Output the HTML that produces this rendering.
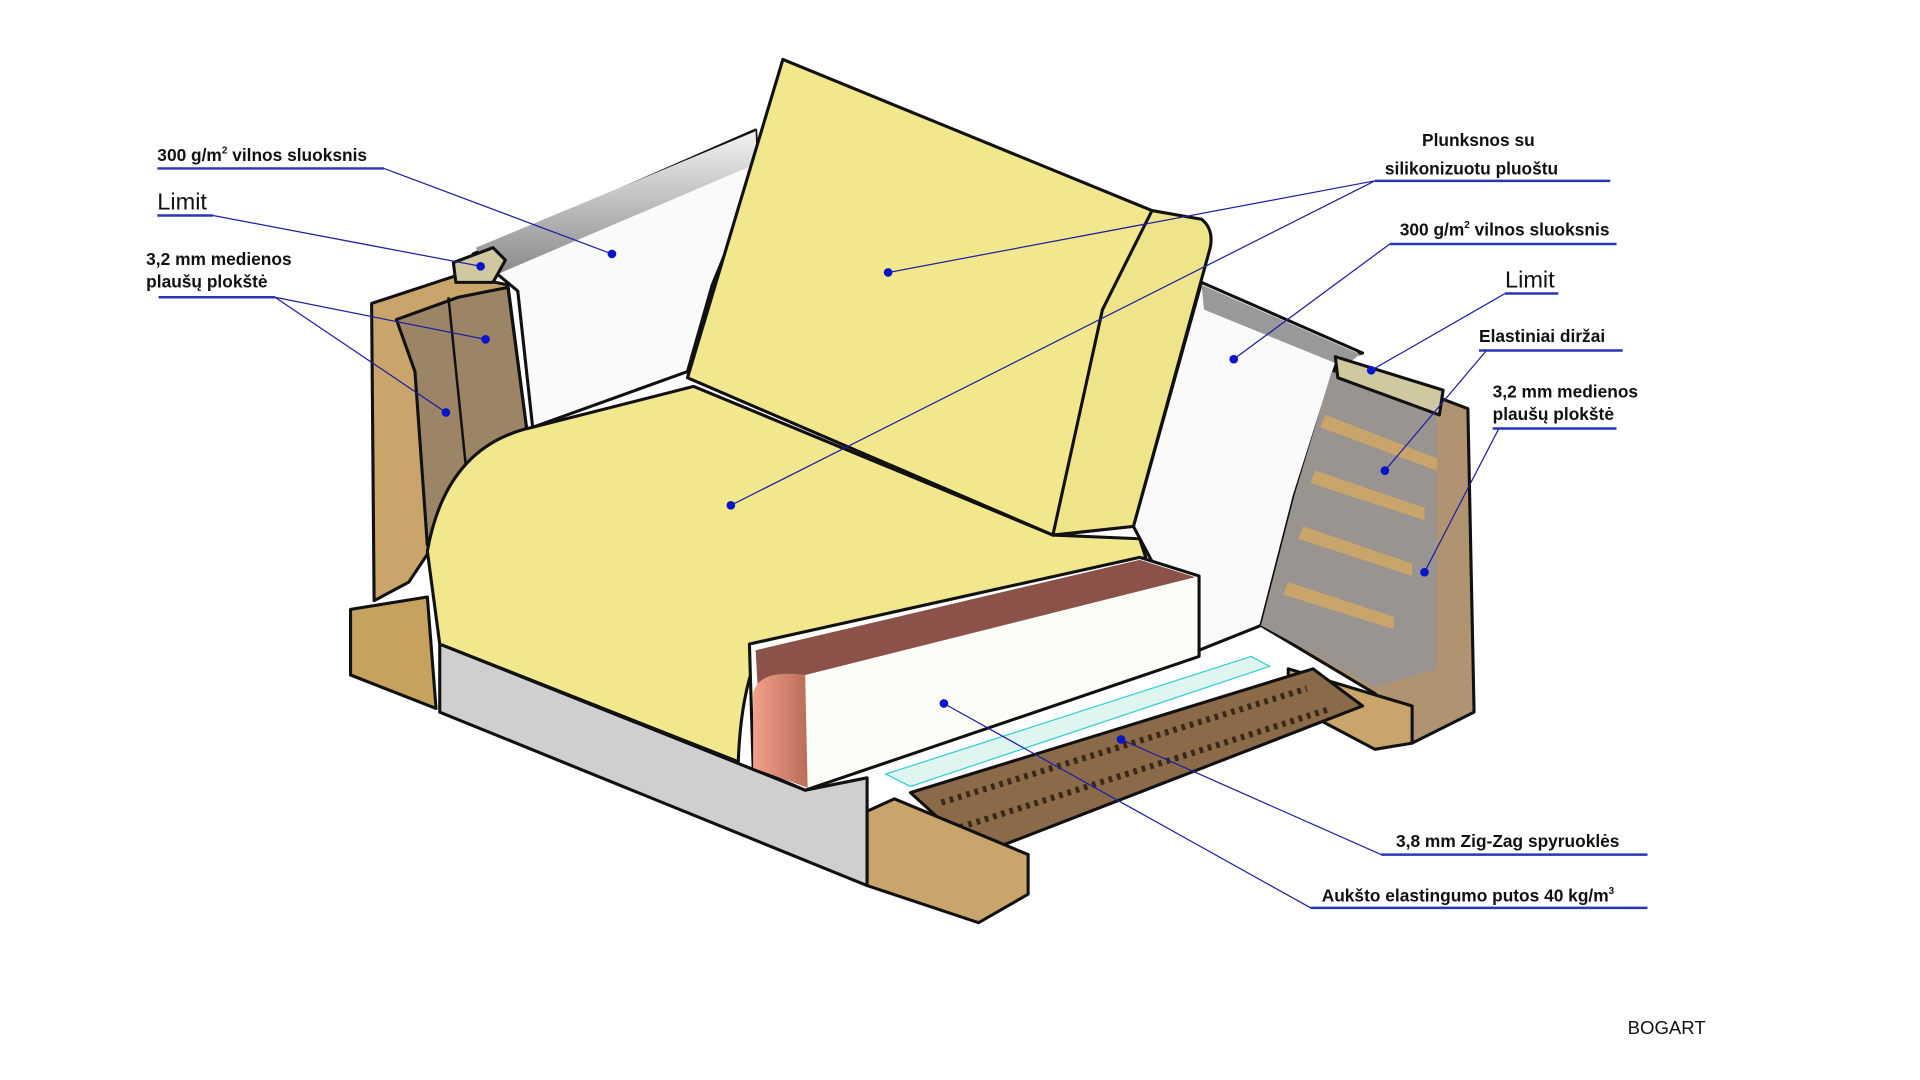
<!DOCTYPE html>
<html><head><meta charset="utf-8"><style>
html,body{margin:0;padding:0;background:#fff;width:1920px;height:1080px;overflow:hidden}
svg{display:block}
text{font-family:"Liberation Sans",sans-serif;fill:#111}
.b{font-weight:bold;font-size:14px}
.ul{stroke:#2a35b8;stroke-width:2}
.ln{stroke:#2020a0;stroke-width:1;fill:none}
.d{fill:#0a14c8}
.o{stroke:#111;stroke-width:2.5;stroke-linejoin:round}
</style></head><body>
<svg width="1920" height="1080" viewBox="0 0 1550 872" preserveAspectRatio="none">
<defs>
<linearGradient id="gb" x1="0" y1="0" x2="0" y2="1"><stop offset="0" stop-color="#f2f2f2"/><stop offset="1" stop-color="#8a8a8a"/></linearGradient>
<linearGradient id="cu" x1="0" y1="0" x2="1" y2="0"><stop offset="0" stop-color="#f4a08a"/><stop offset="1" stop-color="#b86e5a"/></linearGradient>
</defs>
<path class="o" d="M382,205 L610,105 L612,140 L575,230 L555,300 L430,345 L418,235 Z" fill="#fafafa"/>
<path d="M384,200 L610,106 L611,132 L400,222 Z" fill="url(#gb)"/>
<path class="o" d="M300,245 L370,222 L410,230 L425,345 L385,385 L350,440 L330,470 L302,485 Z" fill="#c9a56b"/>
<path class="o" d="M320,258 L370,240 L410,232 L425,345 L380,395 L345,440 L335,300 Z" fill="#9c8466"/>
<path d="M362,240 L378,395" stroke="#111" stroke-width="2" fill="none"/>
<path class="o" d="M366,212 L398,200 L408,210 L398,228 L368,228 Z" fill="#cfc8a0"/>
<path class="o" d="M283,492 L345,482 L352,572 L283,545 Z" fill="#c7a25f"/>
<path class="o" d="M915,425 L970,228 L1100,285 L1080,290 L1045,400 L1018,505 L968,525 Z" fill="#fafafa"/>
<path d="M970,230 L1098,286 L1085,296 L972,250 Z" fill="#999"/>
<path class="o" d="M1080,290 L1185,330 L1190,575 L1140,600 L1110,560 L1018,505 L1045,400 Z" fill="#b09472"/>
<path d="M1075,300 L1160,335 L1160,540 L1110,555 L1018,505 L1045,400 Z" fill="#9a9490"/>
<g fill="#c9a56b"><path d="M1070,335 L1160,370 L1160,380 L1066,345Z"/><path d="M1062,380 L1150,410 L1150,420 L1058,390Z"/><path d="M1052,425 L1140,455 L1140,465 L1048,435Z"/><path d="M1040,470 L1125,498 L1125,508 L1036,480Z"/></g>
<path class="o" d="M1078,288 L1165,315 L1162,335 L1080,305 Z" fill="#cfc8a0"/>
<path class="o" d="M1040,540 L1140,570 L1140,600 L1110,605 L1040,568 Z" fill="#c9a56b"/>
<path class="o" d="M735,640 L1060,540 L1100,570 L790,690 Z" fill="#8a6a48"/>
<path d="M760,648 L1055,556 M775,668 L1075,572" stroke="#3a2818" stroke-width="5" stroke-dasharray="3 4" fill="none"/>
<path d="M715,625 L1010,530 L1025,538 L735,635 Z" fill="#dff5f0" stroke="#30d0d0"/>
<path class="o" d="M355,520 L605,620 L650,638 L700,628 L700,715 L355,575 Z" fill="#cfcfcf"/>
<path class="o" d="M700,655 L722,645 L830,690 L830,722 L790,745 L700,715 Z" fill="#c9a56b"/>
<path class="o" d="M345,445 Q360,360 430,345 L560,312 L850,432 L920,435 L925,450 L612,528 Q598,560 596,615 L355,520 Z" fill="#f1e88e"/>
<path class="o" d="M605,520 L920,450 L968,465 L968,530 L650,638 L608,620 Z" fill="#fdfdf8"/>
<path d="M610,525 L920,452 L965,466 L650,545 Q615,545 612,560 Z" fill="#8a5248"/>
<path d="M608,560 Q612,540 650,545 L652,636 L608,620 Z" fill="url(#cu)"/>
<path class="o" d="M632,48 L930,170 L915,425 L850,432 L555,305 Z" fill="#f1e88e"/>
<path class="o" d="M930,170 L970,177 Q980,185 977,200 L915,425 L850,432 L890,250 Z" fill="#eee58a"/>
<g class="ln">
<path d="M310,136 L494,205"/><path d="M172,174 L388,215"/>
<path d="M222,240 L392,274"/><path d="M222,240 L360,333"/>
<path d="M1110,146 L717,220"/><path d="M1110,146 L590,408"/>
<path d="M1122,197 L996,290"/><path d="M1215,237 L1107,299"/>
<path d="M1200,283 L1118,380"/><path d="M1210,346 L1150,462"/>
<path d="M1115,690 L905,597"/><path d="M1058,733 L762,568"/>
</g>
<g class="d">
<circle cx="494" cy="205" r="3.5"/><circle cx="388" cy="215" r="3.5"/><circle cx="392" cy="274" r="3.5"/><circle cx="360" cy="333" r="3.5"/>
<circle cx="717" cy="220" r="3.5"/><circle cx="590" cy="408" r="3.5"/><circle cx="996" cy="290" r="3.5"/><circle cx="1107" cy="299" r="3.5"/>
<circle cx="1118" cy="380" r="3.5"/><circle cx="1150" cy="462" r="3.5"/><circle cx="905" cy="597" r="3.5"/><circle cx="762" cy="568" r="3.5"/>
</g>
<g class="ul">
<path d="M127,136 H310"/><path d="M127,174 H172"/><path d="M128,240 H222"/>
<path d="M1110,146 H1300"/><path d="M1122,197 H1305"/><path d="M1215,237 H1258"/>
<path d="M1194,283 H1310"/><path d="M1205,346 H1305"/><path d="M1115,690 H1330"/><path d="M1058,733 H1330"/>
</g>
<text class="b" x="127" y="130">300 g/m<tspan font-size="8" dy="-6">2</tspan><tspan dy="6"> vilnos sluoksnis</tspan></text>
<text x="127" y="169" font-size="19">Limit</text>
<text class="b" x="118" y="214">3,2 mm medienos</text>
<text class="b" x="118" y="232">plaušų plokštė</text>
<text class="b" x="1148" y="118">Plunksnos su</text>
<text class="b" x="1118" y="141">silikonizuotu pluoštu</text>
<text class="b" x="1130" y="190">300 g/m<tspan font-size="8" dy="-6">2</tspan><tspan dy="6"> vilnos sluoksnis</tspan></text>
<text x="1215" y="232" font-size="19">Limit</text>
<text class="b" x="1194" y="276">Elastiniai diržai</text>
<text class="b" x="1205" y="321">3,2 mm medienos</text>
<text class="b" x="1205" y="339">plaušų plokštė</text>
<text class="b" x="1127" y="684">3,8 mm Zig-Zag spyruoklės</text>
<text class="b" x="1067" y="728">Aukšto elastingumo putos 40 kg/m<tspan font-size="8" dy="-6">3</tspan></text>
<text x="1314" y="835" font-size="15">BOGART</text>
</svg>
</body></html>
